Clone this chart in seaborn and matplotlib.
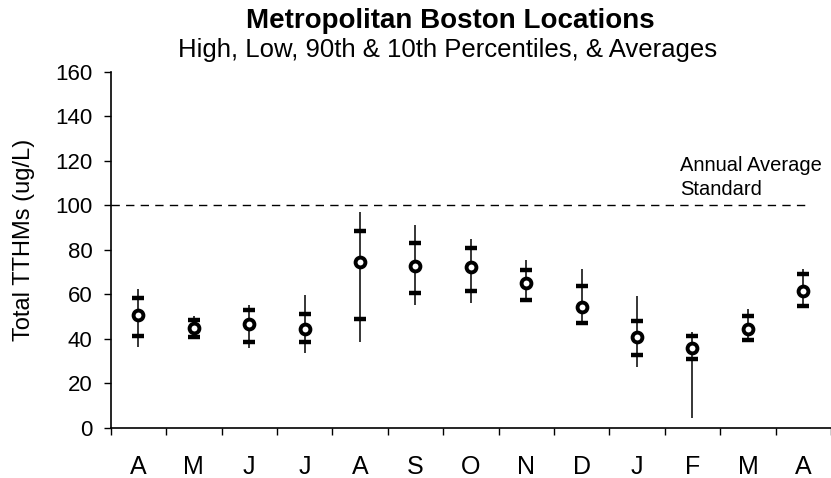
import numpy as np
import pandas as pd
import matplotlib.pyplot as plt
import seaborn as sns

# Meses (abril a abril) y valores (ug/L)
meses = ['A', 'M', 'J', 'J', 'A', 'S', 'O', 'N', 'D', 'J', 'F', 'M', 'A']
maximo = [62.3, 50.3, 55.3, 59.8, 97.0, 90.9, 85.0, 75.2, 71.3, 59.3, 43.0, 53.3, 71.3]
p90 = [58.3, 48.5, 52.7, 50.9, 88.3, 83.1, 80.8, 71.0, 63.5, 47.8, 41.4, 50.0, 69.1]
promedio = [50.8, 44.8, 46.7, 44.5, 74.5, 72.8, 72.1, 65.0, 54.1, 40.7, 35.8, 44.3, 61.3]
p10 = [41.2, 40.7, 38.7, 38.5, 49.0, 60.4, 61.3, 57.4, 47.0, 32.7, 30.8, 39.5, 54.8]
minimo = [36.2, 39.8, 35.8, 33.5, 38.7, 55.0, 56.0, 56.8, 46.3, 27.2, 4.2, 38.3, 53.8]
estandar = 100

datos = pd.DataFrame({
    'pos': np.arange(len(meses)),
    'Mes': meses,
    'Max': maximo,
    'P90': p90,
    'Prom': promedio,
    'P10': p10,
    'Min': minimo,
})

sns.set_style('ticks')
plt.rcParams['font.family'] = ['Liberation Sans', 'DejaVu Sans']
plt.rcParams['text.color'] = 'black'
plt.rcParams['xtick.color'] = 'black'
plt.rcParams['ytick.color'] = 'black'
plt.rcParams['axes.labelcolor'] = 'black'

fig = plt.figure(figsize=(8.31, 4.78), dpi=100)
ax = fig.add_axes([0.1332, 0.1052, 0.8668, 0.7448])

# Lineas de maximo a minimo
ax.vlines(datos['pos'], datos['Min'], datos['Max'], color='black', linewidth=1.1, zorder=1)

# Percentiles 90 y 10
for col in ['P90', 'P10']:
    sns.scatterplot(data=datos, x='pos', y=col, marker='_', s=70, color='black',
                    linewidth=3.2, ax=ax, zorder=2, legend=False)

# Promedios
sns.scatterplot(data=datos, x='pos', y='Prom', marker='o', s=50, facecolor='white',
                edgecolor='black', linewidth=2.8, ax=ax, zorder=3, legend=False)

# Estandar anual
ax.axhline(estandar, xmin=0, xmax=0.971, color='black', linewidth=1.0,
           linestyle=(0, (6, 4.5)), zorder=0)
ax.text(0.790, 115.2, 'Annual Average', transform=ax.get_yaxis_transform(),
        fontsize=14.5, va='baseline', ha='left')
ax.text(0.790, 104.8, 'Standard', transform=ax.get_yaxis_transform(),
        fontsize=14.5, va='baseline', ha='left')

ax.set_xlim(-0.5, len(meses) - 0.5)
ax.set_ylim(0, 160)
ax.set_yticks(range(0, 161, 20))
ax.set_xticks(datos['pos'])
ax.set_xticklabels(meses)
ax.set_xticks(np.arange(-0.5, len(meses) - 0.4, 1), minor=True)
ax.tick_params(axis='x', which='major', length=0, pad=20, labelsize=18)
ax.tick_params(axis='x', which='minor', length=5, width=1, direction='out', color='black')
ax.tick_params(axis='y', length=5, width=1, direction='out', color='black', pad=8, labelsize=16)
ax.set_xlabel('')
ax.set_ylabel('')

sns.despine(ax=ax)
for lado in ['left', 'bottom']:
    ax.spines[lado].set_color('black')
    ax.spines[lado].set_linewidth(1.2)

fig.text(24 / 831, 1 - 240 / 478, 'Total TTHMs (ug/L)', rotation=90,
         ha='center', va='center', fontsize=17)
fig.text(450 / 831, 1 - 28 / 478, 'Metropolitan Boston Locations',
         ha='center', va='baseline', fontsize=20, fontweight='bold')
fig.text(448 / 831, 1 - 57 / 478, 'High, Low, 90th & 10th Percentiles, & Averages',
         ha='center', va='baseline', fontsize=18.5)

fig.savefig('out.png', dpi=100)
